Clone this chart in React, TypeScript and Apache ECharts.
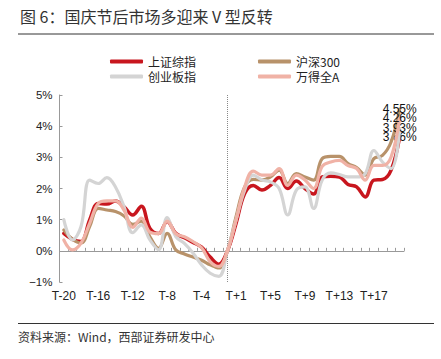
import React, { useEffect, useRef } from "react";
import * as echarts from "echarts";

const categories: string[] = [
  "T-20","T-19","T-18","T-17","T-16","T-15","T-14","T-13","T-12","T-11",
  "T-10","T-9","T-8","T-7","T-6","T-5","T-4","T-3","T-2","T-1",
  "T+1","T+2","T+3","T+4","T+5","T+6","T+7","T+8","T+9","T+10",
  "T+11","T+12","T+13","T+14","T+15","T+16","T+17","T+18","T+19","T+20",
];

const shangzheng: number[] = [
  0.56, 0.37, 0.30, 0.99, 1.52, 1.50, 1.60, 1.41, 1.15, 1.43,
  0.72, 0.56, 0.94, 0.56, 0.42, 0.27, 0.12, -0.20, -0.43, 0,
  0.88, 1.84, 2.10, 1.95, 2.10, 2.35, 2.00, 2.24, 2.00, 1.82,
  2.37, 2.39, 2.37, 2.13, 2.05, 1.73, 2.27, 2.29, 2.59, 3.66,
];
const hs300: number[] = [
  0.67, 0.37, 0.25, 0.78, 1.36, 1.31, 1.26, 1.12, 0.85, 0.95,
  0.45, 0.08, 0.56, 0.03, -0.10, -0.20, -0.30, -0.45, -0.55, 0,
  1.10, 2.05, 2.29, 2.27, 2.37, 2.59, 2.16, 2.48, 2.37, 2.27,
  2.96, 3.03, 3.03, 2.80, 2.67, 2.43, 2.96, 3.06, 3.49, 4.55,
];
const chuangye: number[] = [
  1.00, 0.35, 0.78, 2.27, 2.16, 2.35, 2.05, 1.41, 0.58, 0.83,
  0.35, 0.03, 1.07, 0.46, 0.24, -0.07, -0.45, -0.72, -0.82, 0,
  0.99, 1.95, 2.43, 2.27, 2.21, 2.00, 1.15, 1.95, 2.05, 1.36,
  2.27, 2.50, 2.45, 2.37, 2.37, 2.48, 3.22, 2.85, 2.64, 3.93,
];
const wandeA: number[] = [
  0.35, 0.03, 0.25, 0.88, 1.52, 1.60, 1.60, 1.30, 0.75, 1.05,
  0.60, 0.55, 0.95, 0.55, 0.45, 0.30, 0.10, -0.35, -0.50, 0,
  0.99, 2.05, 2.56, 2.43, 2.43, 2.64, 2.10, 2.43, 2.27, 2.00,
  2.71, 2.85, 2.90, 2.74, 2.64, 2.27, 2.74, 2.74, 3.01, 4.26,
];

const seriesNames = ["上证综指", "沪深300", "创业板指", "万得全A"];
const seriesColors = ["#C8161E", "#B8926A", "#D4D4D4", "#F0B2A6"];
const yTicks = [-1, 0, 1, 2, 3, 4, 5];

export default function App() {
  const ref = useRef<HTMLDivElement>(null);
  useEffect(() => {
    document.body.style.margin = "0";
    if (!ref.current) return;
    const chart = echarts.init(ref.current, undefined, { renderer: "svg" });
    const datasets = [shangzheng, hs300, chuangye, wandeA];
    const lastIdx = categories.length - 1;
    const series: any[] = datasets.map((d, k) => ({
      name: seriesNames[k],
      type: "line",
      data: d.map((v, i) =>
        i === lastIdx
          ? {
              value: v,
              label: {
                show: true,
                position: "inside",
                formatter: (p: any) => Number(p.value).toFixed(2) + "%",
                color: "#111",
                fontSize: 12,
                lineHeight: 8,
                fontFamily: "Liberation Sans, Arial, sans-serif",
              },
            }
          : v
      ),
      smooth: 0.4,
      showSymbol: true,
      symbol: "circle",
      symbolSize: 0,
      lineStyle: { width: k === 0 ? 3.5 : 3.2, color: seriesColors[k], cap: "round", join: "round" },
      itemStyle: { color: seriesColors[k] },
      labelLayout: { hideOverlap: false },
      z: 2 + k,
      ...(k === 0
        ? {
            markLine: {
              silent: true,
              symbol: "none",
              label: { show: false },
              lineStyle: { type: "dotted", color: "#888", width: 1 },
              data: [{ xAxis: "T-1" }],
            },
          }
        : {}),
    }));

    const legendCommon = {
      orient: "horizontal",
      itemWidth: 33,
      itemHeight: 4,
      icon: "roundRect",
      itemGap: 62,
      textStyle: {
        fontSize: 12,
        lineHeight: 13,
        color: "#222",
        fontFamily: "Noto Sans CJK SC, sans-serif",
      },
    };

    chart.setOption({
      animation: false,
      backgroundColor: "#fff",
      legend: [
        { ...legendCommon, left: 108, top: 53, padding: 2, data: [seriesNames[0], seriesNames[1]] },
        { ...legendCommon, left: 108, top: 68, padding: 2, data: [seriesNames[2], seriesNames[3]] },
      ],
      grid: { left: 59.5, right: 37, top: 95, bottom: 77, containLabel: false },
      xAxis: {
        type: "category",
        data: categories,
        boundaryGap: true,
        axisLine: { onZero: true, lineStyle: { color: "#999", width: 1 } },
        axisTick: { show: true, inside: true, length: 3, interval: 0, lineStyle: { color: "#999" } },
        axisLabel: {
          interval: 3,
          color: "#222",
          fontSize: 12,
          margin: 8,
          fontFamily: "Liberation Sans, Arial, sans-serif",
        },
        splitLine: { show: false },
      },
      yAxis: {
        type: "value",
        min: yTicks[0],
        max: yTicks[yTicks.length - 1],
        interval: 1,
        axisLine: { show: true, lineStyle: { color: "#999", width: 1 } },
        axisTick: { show: true, inside: true, length: 3, lineStyle: { color: "#999" } },
        axisLabel: {
          formatter: (v: number) => (v < 0 ? "−" + Math.abs(v) : v) + "%",
          color: "#222",
          fontSize: 11.5,
          margin: 7,
          fontFamily: "Liberation Sans, Arial, sans-serif",
        },
        splitLine: { show: false },
      },
      series,
      graphic: [
        {
          type: "text",
          left: 20,
          top: 8,
          style: {
            text: "图 6：国庆节后市场多迎来 V 型反转",
            fontSize: 16,
            fill: "#333",
            fontFamily: "Noto Sans CJK SC, sans-serif",
          },
        },
        {
          type: "line",
          shape: { x1: 18, y1: 34, x2: 434, y2: 34 },
          style: { stroke: "#333", lineWidth: 1 },
        },
        {
          type: "line",
          shape: { x1: 18, y1: 323.5, x2: 434, y2: 323.5 },
          style: { stroke: "#333", lineWidth: 1 },
        },
        {
          type: "text",
          left: 18,
          top: 330,
          style: {
            text: "资料来源：Wind，西部证券研发中心",
            fontSize: 12,
            fill: "#333",
            fontFamily: "Noto Sans CJK SC, sans-serif",
          },
        },
      ],
    });
    return () => chart.dispose();
  }, []);
  return <div ref={ref} style={{ width: 441, height: 359 }} />;
}
